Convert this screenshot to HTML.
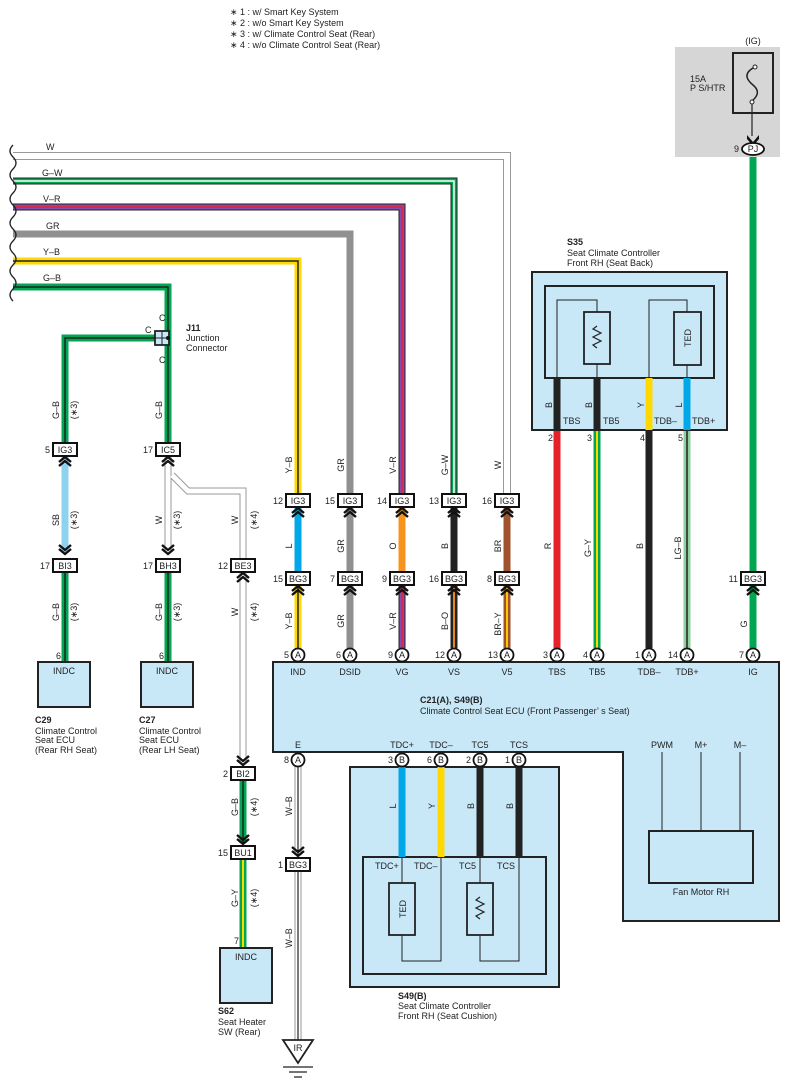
<!DOCTYPE html>
<html><head><meta charset="utf-8"><style>
html,body{margin:0;padding:0;background:#fff;}
svg{display:block;}
text{font-family:"Liberation Sans",sans-serif;font-size:9px;fill:#222;}
.b{font-weight:bold;}
.m{text-anchor:middle;}
.e{text-anchor:end;}
.cn rect{fill:#fff;stroke:#111;stroke-width:2;}
.ch{fill:none;stroke:#111;stroke-width:2.4;}
.pin circle{fill:#fff;stroke:#111;stroke-width:1.8;}
.box{fill:#c8e8f8;stroke:#222;stroke-width:2;}
.thin{fill:none;stroke:#222;stroke-width:1;}
</style></head><body>
<svg width="790" height="1092" viewBox="0 0 790 1092" xmlns="http://www.w3.org/2000/svg">
<defs>
<path id="wW" d="M13,156 H507 V493"/>
<path id="wGW" d="M13,181 H454 V493"/>
<path id="wVR" d="M13,207 H402 V493"/>
<path id="wGR" d="M13,234 H350 V493"/>
<path id="wYB" d="M13,261 H298 V493"/>
<path id="wGB" d="M13,287 H168 V442"/>
<path id="wGB2" d="M161,338 H65 V442"/>
</defs>
<g fill="none" stroke-linejoin="miter">
<use href="#wW" stroke="#999" stroke-width="8"/><use href="#wW" stroke="#fff" stroke-width="6"/>
<use href="#wGW" stroke="#222" stroke-width="7"/><use href="#wGW" stroke="#00a651" stroke-width="5"/><use href="#wGW" stroke="#fff" stroke-width="1.5"/>
<use href="#wVR" stroke="#222" stroke-width="7"/><use href="#wVR" stroke="#8a4ab0" stroke-width="5"/><use href="#wVR" stroke="#e8202a" stroke-width="1.5"/>
<use href="#wGR" stroke="#909090" stroke-width="7"/>
<use href="#wYB" stroke="#ffd800" stroke-width="7"/><use href="#wYB" stroke="#222" stroke-width="1.5"/>
<use href="#wGB" stroke="#00a651" stroke-width="7"/><use href="#wGB" stroke="#222" stroke-width="1.5"/>
<use href="#wGB2" stroke="#00a651" stroke-width="7"/><use href="#wGB2" stroke="#222" stroke-width="1.5"/>
<path d="M298,508V571" stroke="#00a8e8" stroke-width="7"/>
<path d="M350,508V571" stroke="#909090" stroke-width="7"/>
<path d="M402,508V571" stroke="#f7941d" stroke-width="7"/>
<path d="M454,508V571" stroke="#222" stroke-width="7"/>
<path d="M507,508V571" stroke="#a0522d" stroke-width="7"/>
<path d="M298,586V648" stroke="#ffd800" stroke-width="7"/><path d="M298,586V648" stroke="#222" stroke-width="1.5"/>
<path d="M350,586V648" stroke="#909090" stroke-width="7"/>
<path d="M402,586V648" stroke="#222" stroke-width="7"/><path d="M402,586V648" stroke="#8a4ab0" stroke-width="5"/><path d="M402,586V648" stroke="#e8202a" stroke-width="1.5"/>
<path d="M454,586V648" stroke="#222" stroke-width="7"/><path d="M454,586V648" stroke="#f7941d" stroke-width="1.8"/>
<path d="M507,586V648" stroke="#a0522d" stroke-width="7"/><path d="M507,586V648" stroke="#ffd800" stroke-width="1.8"/>
<path d="M557,430V648" stroke="#e8202a" stroke-width="7"/>
<path d="M597,430V648" stroke="#00a651" stroke-width="7"/><path d="M597,430V648" stroke="#ffd800" stroke-width="2"/>
<path d="M649,430V648" stroke="#222" stroke-width="7"/>
<path d="M687,430V648" stroke="#8fd19e" stroke-width="7"/><path d="M687,430V648" stroke="#222" stroke-width="1.5"/>
<path d="M753,157V571M753,586V648" stroke="#00a651" stroke-width="7"/>
<path d="M65,457V552" stroke="#8dd3f0" stroke-width="7"/>
<path d="M65,572V662" stroke="#00a651" stroke-width="7"/><path d="M65,572V662" stroke="#222" stroke-width="1.5"/>
<path d="M168,457V552M172,475L188,491H243V558" stroke="#999" stroke-width="7"/><path d="M168,457V552M172,475L188,491H243V558" stroke="#fff" stroke-width="5"/>
<path d="M168,572V662" stroke="#00a651" stroke-width="7"/><path d="M168,572V662" stroke="#222" stroke-width="1.5"/>
<path d="M243,573V762" stroke="#999" stroke-width="7"/><path d="M243,573V762" stroke="#fff" stroke-width="5"/>
<path d="M243,780V843" stroke="#00a651" stroke-width="7"/><path d="M243,780V843" stroke="#222" stroke-width="1.5"/>
<path d="M243,859V948" stroke="#00a651" stroke-width="7"/><path d="M243,859V948" stroke="#ffd800" stroke-width="2"/>
<path d="M298,767V855M298,871V1040" stroke="#999" stroke-width="7"/><path d="M298,767V855M298,871V1040" stroke="#fff" stroke-width="5"/><path d="M298,767V855M298,871V1040" stroke="#222" stroke-width="1.2"/>
</g>
<path d="M13,145 q-6,6 0,12 q6,6 0,12 q-6,6 0,12 q6,6 0,12 q-6,6 0,12 q6,6 0,12 q-6,6 0,12 q6,6 0,12 q-6,6 0,12 q6,6 0,12 q-6,6 0,12 q6,6 0,12 q-6,6 0,12 " fill="none" stroke="#222" stroke-width="1.3"/>
<text x="46" y="150">W</text><text x="42" y="176">G–W</text><text x="43" y="202">V–R</text><text x="46" y="229">GR</text><text x="43" y="255">Y–B</text><text x="43" y="281">G–B</text>
<rect x="155" y="331" width="14" height="14" fill="#c8e8f8" stroke="#222" stroke-width="1.8"/>
<line x1="162" y1="331" x2="162" y2="345" stroke="#222"/><line x1="155" y1="338" x2="169" y2="338" stroke="#222"/>
<circle cx="168" cy="338" r="2" fill="#111"/>
<text x="159" y="321">C</text><text x="145" y="333">C</text><text x="159" y="363">C</text>
<text x="186" y="331" class="b">J11</text><text x="186" y="341">Junction</text><text x="186" y="351">Connector</text>
<rect x="675" y="47" width="105" height="110" fill="#d6d6d6"/>
<rect x="733" y="53" width="40" height="60" fill="#d6d6d6" stroke="#222" stroke-width="2"/>
<path d="M753,68 c-10,6 -6,12 0,17 c6,5 6,10 -1,16" fill="none" stroke="#222" stroke-width="1.5"/>
<circle cx="755" cy="67" r="2" fill="#fff" stroke="#222"/><circle cx="752" cy="102" r="2" fill="#fff" stroke="#222"/>
<line x1="752" y1="104" x2="752" y2="136" stroke="#222" stroke-width="1.2"/>
<path d="M747,135 L753,142 L759,135 L759,139 L753,146 L747,139Z" fill="#111"/>
<ellipse cx="753" cy="149" rx="11" ry="6" fill="#fff" stroke="#111" stroke-width="1.8"/>
<text x="753" y="152" class="m">PJ</text><text x="739" y="152" class="e">9</text>
<text x="753" y="44" class="m">(IG)</text><text x="690" y="82">15A</text><text x="690" y="91">P S/HTR</text>
<text x="567" y="245" class="b">S35</text><text x="567" y="256">Seat Climate Controller</text><text x="567" y="266">Front RH (Seat Back)</text>
<rect x="532" y="272" width="195" height="158" class="box"/>
<rect x="545" y="286" width="169" height="92" class="box"/>
<path d="M557,378V300H597V378M649,378V300H687V378" class="thin"/>
<rect x="584" y="312" width="26" height="52" fill="#c8e8f8" stroke="#222" stroke-width="1.8"/>
<path d="M597,326 l-4,3 l8,4 l-8,4 l8,4 l-8,4 l4,3" fill="none" stroke="#222" stroke-width="1.2"/>
<rect x="674" y="312" width="27" height="53" fill="#c8e8f8" stroke="#222" stroke-width="1.8"/>
<text transform="translate(691,338) rotate(-90)" class="m">TED</text>
<g stroke-width="7" fill="none"><path d="M557,378V430" stroke="#222"/><path d="M597,378V430" stroke="#222"/><path d="M649,378V430" stroke="#ffd800"/><path d="M687,378V430" stroke="#00a8e8"/></g>
<text x="563" y="424">TBS</text><text x="603" y="424">TB5</text><text x="654" y="424">TDB–</text><text x="692" y="424">TDB+</text>
<text transform="translate(552,405) rotate(-90)" class="m">B</text><text transform="translate(592,405) rotate(-90)" class="m">B</text>
<text transform="translate(644,405) rotate(-90)" class="m">Y</text><text transform="translate(682,405) rotate(-90)" class="m">L</text>
<text x="553" y="441" class="e">2</text><text x="592" y="441" class="e">3</text><text x="645" y="441" class="e">4</text><text x="683" y="441" class="e">5</text>
<rect x="623" y="740" width="156" height="181" class="box"/>
<rect x="273" y="662" width="506" height="90" class="box"/>
<rect x="624" y="748" width="154" height="8" fill="#c8e8f8"/>
<path d="M662,752V831M701,752V831M740,752V831" class="thin"/>
<rect x="649" y="831" width="104" height="52" fill="#c8e8f8" stroke="#222" stroke-width="2"/>
<text x="701" y="895" class="m">Fan Motor RH</text>
<g class="m">
<text x="298" y="675">IND</text><text x="350" y="675">DSID</text><text x="402" y="675">VG</text><text x="454" y="675">VS</text><text x="507" y="675">V5</text><text x="557" y="675">TBS</text><text x="597" y="675">TB5</text><text x="649" y="675">TDB–</text><text x="687" y="675">TDB+</text><text x="753" y="675">IG</text>
<text x="298" y="748">E</text><text x="402" y="748">TDC+</text><text x="441" y="748">TDC–</text><text x="480" y="748">TC5</text><text x="519" y="748">TCS</text><text x="662" y="748">PWM</text><text x="701" y="748">M+</text><text x="740" y="748">M–</text>
</g>
<text x="420" y="703" class="b">C21(A), S49(B)</text><text x="420" y="714">Climate Control Seat ECU (Front Passenger’ s Seat)</text>
<rect x="350" y="767" width="209" height="220" class="box"/>
<rect x="363" y="857" width="183" height="117" class="box"/>
<path d="M402,857V883M402,935V961H441V857M480,857V961H519V857" class="thin"/>
<rect x="389" y="883" width="26" height="52" fill="#c8e8f8" stroke="#222" stroke-width="1.8"/>
<text transform="translate(406,909) rotate(-90)" class="m">TED</text>
<rect x="467" y="883" width="26" height="52" fill="#c8e8f8" stroke="#222" stroke-width="1.8"/>
<path d="M480,897 l-4,3 l8,4 l-8,4 l8,4 l-8,4 l4,3" fill="none" stroke="#222" stroke-width="1.2"/>
<g stroke-width="7"><path d="M402,767V857" stroke="#00a8e8"/><path d="M441,767V857" stroke="#ffd800"/><path d="M480,767V857" stroke="#222"/><path d="M519,767V857" stroke="#222"/></g>
<text x="375" y="869">TDC+</text><text x="414" y="869">TDC–</text><text x="459" y="869">TC5</text><text x="497" y="869">TCS</text>
<text x="398" y="999" class="b">S49(B)</text><text x="398" y="1009">Seat Climate Controller</text><text x="398" y="1019">Front RH (Seat Cushion)</text>
<rect x="38" y="662" width="52" height="45" class="box"/><text x="64" y="674" class="m">INDC</text>
<rect x="141" y="662" width="52" height="45" class="box"/><text x="167" y="674" class="m">INDC</text>
<rect x="220" y="948" width="52" height="55" class="box"/><text x="246" y="960" class="m">INDC</text>
<text x="61" y="659" class="e">6</text><text x="164" y="659" class="e">6</text><text x="239" y="944" class="e">7</text>
<text x="35" y="723" class="b">C29</text><text x="35" y="734">Climate Control</text><text x="35" y="743">Seat ECU</text><text x="35" y="753">(Rear RH Seat)</text>
<text x="139" y="723" class="b">C27</text><text x="139" y="734">Climate Control</text><text x="139" y="743">Seat ECU</text><text x="139" y="753">(Rear LH Seat)</text>
<text x="218" y="1014" class="b">S62</text><text x="218" y="1025">Seat Heater</text><text x="218" y="1035">SW (Rear)</text>
<path d="M283,1040H313L298,1063Z" fill="#fff" stroke="#222" stroke-width="1.8"/>
<text x="298" y="1051" class="m">IR</text>
<path d="M283,1067H313M289,1072H307M294,1077H302" stroke="#222" stroke-width="1.3"/>
<g class="cn">
<rect x="286" y="494" width="24" height="13"/><rect x="338" y="494" width="24" height="13"/><rect x="390" y="494" width="24" height="13"/><rect x="442" y="494" width="24" height="13"/><rect x="495" y="494" width="24" height="13"/>
<rect x="286" y="572" width="24" height="13"/><rect x="338" y="572" width="24" height="13"/><rect x="390" y="572" width="24" height="13"/><rect x="442" y="572" width="24" height="13"/><rect x="495" y="572" width="24" height="13"/><rect x="741" y="572" width="24" height="13"/>
<rect x="53" y="443" width="24" height="13"/><rect x="156" y="443" width="24" height="13"/>
<rect x="53" y="559" width="24" height="13"/><rect x="156" y="559" width="24" height="13"/><rect x="231" y="559" width="24" height="13"/>
<rect x="231" y="767" width="24" height="13"/><rect x="231" y="846" width="24" height="13"/><rect x="286" y="858" width="24" height="13"/>
</g>
<g class="m">
<text x="298" y="504">IG3</text><text x="350" y="504">IG3</text><text x="402" y="504">IG3</text><text x="454" y="504">IG3</text><text x="507" y="504">IG3</text>
<text x="298" y="582">BG3</text><text x="350" y="582">BG3</text><text x="402" y="582">BG3</text><text x="454" y="582">BG3</text><text x="507" y="582">BG3</text><text x="753" y="582">BG3</text>
<text x="65" y="453">IG3</text><text x="168" y="453">IC5</text>
<text x="65" y="569">BI3</text><text x="168" y="569">BH3</text><text x="243" y="569">BE3</text>
<text x="243" y="777">BI2</text><text x="243" y="856">BU1</text><text x="298" y="868">BG3</text>
</g>
<g class="e">
<text x="283" y="504">12</text><text x="335" y="504">15</text><text x="387" y="504">14</text><text x="439" y="504">13</text><text x="492" y="504">16</text>
<text x="283" y="582">15</text><text x="335" y="582">7</text><text x="387" y="582">9</text><text x="439" y="582">16</text><text x="492" y="582">8</text><text x="738" y="582">11</text>
<text x="50" y="453">5</text><text x="153" y="453">17</text>
<text x="50" y="569">17</text><text x="153" y="569">17</text><text x="228" y="569">12</text>
<text x="228" y="777">2</text><text x="228" y="856">15</text><text x="283" y="868">1</text>
</g>
<g class="ch">
<path d="M292,513L298,508L304,513M292,517L298,512L304,517"/>
<path d="M344,513L350,508L356,513M344,517L350,512L356,517"/>
<path d="M396,513L402,508L408,513M396,517L402,512L408,517"/>
<path d="M448,513L454,508L460,513M448,517L454,512L460,517"/>
<path d="M501,513L507,508L513,513M501,517L507,512L513,517"/>
<path d="M292,591L298,586L304,591M292,595L298,590L304,595"/>
<path d="M344,591L350,586L356,591M344,595L350,590L356,595"/>
<path d="M396,591L402,586L408,591M396,595L402,590L408,595"/>
<path d="M448,591L454,586L460,591M448,595L454,590L460,595"/>
<path d="M501,591L507,586L513,591M501,595L507,590L513,595"/>
<path d="M747,591L753,586L759,591M747,595L753,590L759,595"/>
<path d="M59,462L65,457L71,462M59,466L65,461L71,466"/>
<path d="M162,462L168,457L174,462M162,466L168,461L174,466"/>
<path d="M237,578L243,573L249,578M237,582L243,577L249,582"/>
<path d="M59,545L65,550L71,545M59,549L65,554L71,549"/>
<path d="M162,545L168,550L174,545M162,549L168,554L174,549"/>
<path d="M237,756L243,761L249,756M237,760L243,765L249,760"/>
<path d="M237,835L243,840L249,835M237,839L243,844L249,839"/>
<path d="M292,847L298,852L304,847M292,851L298,856L304,851"/>
</g>
<g class="pin">
<circle cx="298" cy="655" r="6.5"/><circle cx="350" cy="655" r="6.5"/><circle cx="402" cy="655" r="6.5"/><circle cx="454" cy="655" r="6.5"/><circle cx="507" cy="655" r="6.5"/><circle cx="557" cy="655" r="6.5"/><circle cx="597" cy="655" r="6.5"/><circle cx="649" cy="655" r="6.5"/><circle cx="687" cy="655" r="6.5"/><circle cx="753" cy="655" r="6.5"/>
<circle cx="298" cy="760" r="6.5"/><circle cx="402" cy="760" r="6.5"/><circle cx="441" cy="760" r="6.5"/><circle cx="480" cy="760" r="6.5"/><circle cx="519" cy="760" r="6.5"/>
</g>
<g class="m">
<text x="298" y="658">A</text><text x="350" y="658">A</text><text x="402" y="658">A</text><text x="454" y="658">A</text><text x="507" y="658">A</text><text x="557" y="658">A</text><text x="597" y="658">A</text><text x="649" y="658">A</text><text x="687" y="658">A</text><text x="753" y="658">A</text>
<text x="298" y="763">A</text><text x="402" y="763">B</text><text x="441" y="763">B</text><text x="480" y="763">B</text><text x="519" y="763">B</text>
</g>
<g class="e">
<text x="289" y="658">5</text><text x="341" y="658">6</text><text x="393" y="658">9</text><text x="445" y="658">12</text><text x="498" y="658">13</text><text x="548" y="658">3</text><text x="588" y="658">4</text><text x="640" y="658">1</text><text x="678" y="658">14</text><text x="744" y="658">7</text>
<text x="289" y="763">8</text><text x="393" y="763">3</text><text x="432" y="763">6</text><text x="471" y="763">2</text><text x="510" y="763">1</text>
</g>
<g class="m">
<text transform="translate(292,465) rotate(-90)">Y–B</text><text transform="translate(344,465) rotate(-90)">GR</text><text transform="translate(396,465) rotate(-90)">V–R</text><text transform="translate(448,465) rotate(-90)">G–W</text><text transform="translate(501,465) rotate(-90)">W</text>
<text transform="translate(292,546) rotate(-90)">L</text><text transform="translate(344,546) rotate(-90)">GR</text><text transform="translate(396,546) rotate(-90)">O</text><text transform="translate(448,546) rotate(-90)">B</text><text transform="translate(501,546) rotate(-90)">BR</text>
<text transform="translate(551,546) rotate(-90)">R</text><text transform="translate(591,548) rotate(-90)">G–Y</text><text transform="translate(643,546) rotate(-90)">B</text><text transform="translate(681,548) rotate(-90)">LG–B</text><text transform="translate(747,624) rotate(-90)">G</text>
<text transform="translate(292,621) rotate(-90)">Y–B</text><text transform="translate(344,621) rotate(-90)">GR</text><text transform="translate(396,621) rotate(-90)">V–R</text><text transform="translate(448,621) rotate(-90)">B–O</text><text transform="translate(501,624) rotate(-90)">BR–Y</text>
<text transform="translate(59,410) rotate(-90)">G–B</text><text transform="translate(77,410) rotate(-90)">(∗3)</text>
<text transform="translate(162,410) rotate(-90)">G–B</text>
<text transform="translate(59,520) rotate(-90)">SB</text><text transform="translate(77,520) rotate(-90)">(∗3)</text>
<text transform="translate(59,612) rotate(-90)">G–B</text><text transform="translate(77,612) rotate(-90)">(∗3)</text>
<text transform="translate(162,520) rotate(-90)">W</text><text transform="translate(180,520) rotate(-90)">(∗3)</text>
<text transform="translate(162,612) rotate(-90)">G–B</text><text transform="translate(180,612) rotate(-90)">(∗3)</text>
<text transform="translate(238,520) rotate(-90)">W</text><text transform="translate(257,520) rotate(-90)">(∗4)</text>
<text transform="translate(238,612) rotate(-90)">W</text><text transform="translate(257,612) rotate(-90)">(∗4)</text>
<text transform="translate(238,807) rotate(-90)">G–B</text><text transform="translate(257,807) rotate(-90)">(∗4)</text>
<text transform="translate(238,898) rotate(-90)">G–Y</text><text transform="translate(257,898) rotate(-90)">(∗4)</text>
<text transform="translate(292,806) rotate(-90)">W–B</text><text transform="translate(292,938) rotate(-90)">W–B</text>
<text transform="translate(396,806) rotate(-90)">L</text><text transform="translate(435,806) rotate(-90)">Y</text><text transform="translate(474,806) rotate(-90)">B</text><text transform="translate(513,806) rotate(-90)">B</text>
</g>
<text x="230" y="15">∗ 1 : w/ Smart Key System</text>
<text x="230" y="26">∗ 2 : w/o Smart Key System</text>
<text x="230" y="37">∗ 3 : w/ Climate Control Seat (Rear)</text>
<text x="230" y="48">∗ 4 : w/o Climate Control Seat (Rear)</text>
</svg>
</body></html>
